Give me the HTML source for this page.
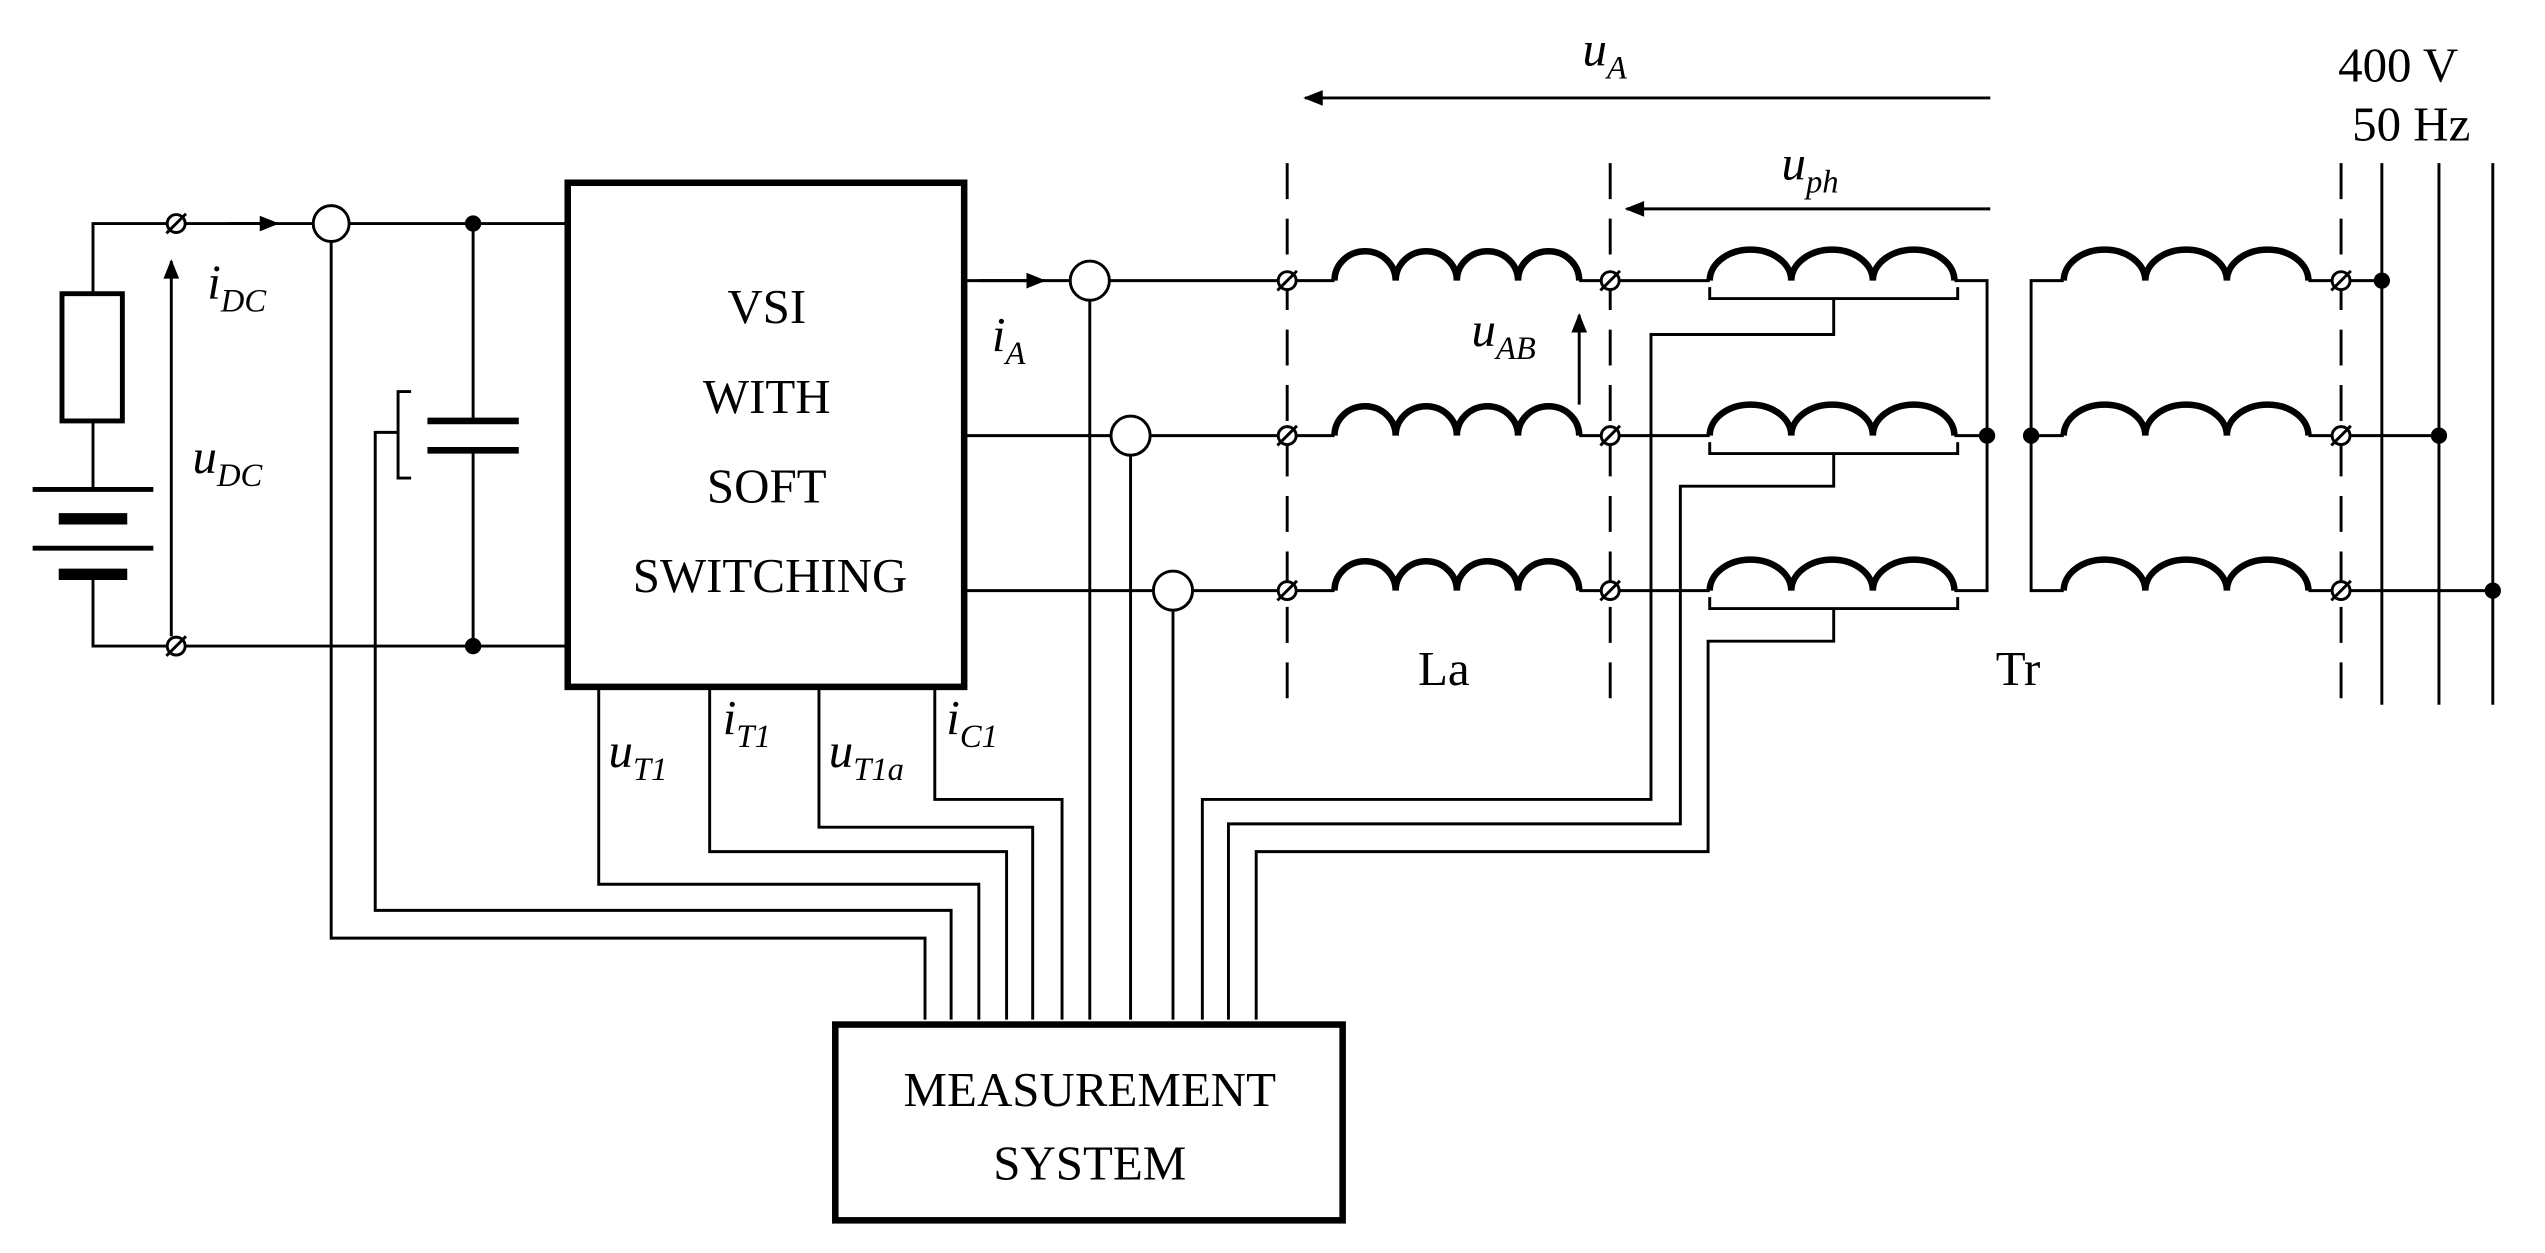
<!DOCTYPE html>
<html><head><meta charset="utf-8"><style>
html,body{margin:0;padding:0;background:#fff;}
svg{display:block;}
text{font-family:"Liberation Serif",serif;fill:#000;}
</style></head><body>
<svg width="2545" height="1253" viewBox="0 0 1560 768" xmlns="http://www.w3.org/2000/svg">
<defs>
<marker id="ar" viewBox="0 0 10 10" refX="9" refY="5" markerWidth="9" markerHeight="9" markerUnits="userSpaceOnUse" orient="auto"><path d="M0,1 L10,5 L0,9 Z" fill="#000"/></marker>
<marker id="ar2" viewBox="0 0 10 10" refX="9" refY="5" markerWidth="16" markerHeight="12" markerUnits="userSpaceOnUse" orient="auto"><path d="M0,1 L10,5 L0,9 Z" fill="#000"/></marker>
<g id="term"><circle r="5.5" fill="#fff" stroke="#000" stroke-width="1.8"/><line x1="-6" y1="6" x2="6" y2="-6" stroke="#000" stroke-width="1.8"/></g>
<path id="ind4" d="M0,0 a18.75,18 0 0 1 37.5,0 a18.75,18 0 0 1 37.5,0 a18.75,18 0 0 1 37.5,0 a18.75,18 0 0 1 37.5,0" fill="none" stroke="#000" stroke-width="4"/>
<path id="ind3" d="M0,0 a25,19 0 0 1 50,0 a25,19 0 0 1 50,0 a25,19 0 0 1 50,0" fill="none" stroke="#000" stroke-width="4"/>
</defs>
<g fill="none" stroke="#000" stroke-width="1.8">
<!-- DC side -->
<polyline points="348,137 57,137 57,180"/>
<rect x="38" y="180" width="37" height="78" stroke-width="3"/>
<polyline points="57,258 57,300"/>
<line x1="20" y1="300" x2="94" y2="300" stroke-width="3"/>
<line x1="36" y1="318" x2="78" y2="318" stroke-width="7"/>
<line x1="20" y1="336" x2="94" y2="336" stroke-width="3"/>
<line x1="36" y1="352" x2="78" y2="352" stroke-width="7"/>
<polyline points="57,352 57,396 348,396"/>
<line x1="140" y1="137" x2="170" y2="137" marker-end="url(#ar2)"/>
<line x1="105" y1="390" x2="105" y2="160" marker-end="url(#ar2)"/>
<!-- capacitor -->
<line x1="290" y1="137" x2="290" y2="258"/>
<line x1="262" y1="258" x2="318" y2="258" stroke-width="4"/>
<line x1="262" y1="276" x2="318" y2="276" stroke-width="4"/>
<line x1="290" y1="276" x2="290" y2="396"/>
<polyline points="252,240 244,240 244,293 252,293"/>
<polyline points="244,265 230,265 230,558 583,558 583,625"/>
<polyline points="203,148 203,575 567,575 567,625"/>
<circle cx="203" cy="137" r="11" fill="#fff"/>
<!-- VSI -->
<rect x="348" y="112" width="243" height="309" stroke-width="4"/>
<polyline points="367,421 367,542 600,542 600,625"/>
<polyline points="435,421 435,522 617,522 617,625"/>
<polyline points="502,421 502,507 633,507 633,625"/>
<polyline points="573,421 573,490 651,490 651,625"/>
<!-- outputs -->
<line x1="591" y1="172" x2="818" y2="172"/>
<line x1="591" y1="267" x2="818" y2="267"/>
<line x1="591" y1="362" x2="818" y2="362"/>
<line x1="600" y1="172" x2="640" y2="172" marker-end="url(#ar2)"/>
<line x1="668" y1="184" x2="668" y2="625"/>
<line x1="693" y1="279" x2="693" y2="625"/>
<line x1="719" y1="374" x2="719" y2="625"/>
<circle cx="668" cy="172" r="12" fill="#fff"/>
<circle cx="693" cy="267" r="12" fill="#fff"/>
<circle cx="719" cy="362" r="12" fill="#fff"/>
<!-- dashed -->
<line x1="789" y1="100" x2="789" y2="432" stroke-dasharray="22,12"/>
<line x1="987" y1="100" x2="987" y2="432" stroke-dasharray="22,12"/>
<line x1="1435" y1="100" x2="1435" y2="432" stroke-dasharray="22,12"/>
<!-- between inductors and primary -->
<line x1="968" y1="172" x2="1048" y2="172"/>
<line x1="968" y1="267" x2="1048" y2="267"/>
<line x1="968" y1="362" x2="1048" y2="362"/>
<polyline points="1198,172 1218,172 1218,362 1198,362"/>
<line x1="1198" y1="267" x2="1218" y2="267"/>
<polyline points="1265,172 1245,172 1245,362 1265,362"/>
<line x1="1245" y1="267" x2="1265" y2="267"/>
<!-- brackets and taps -->
<polyline points="1048,176 1048,183 1200,183 1200,176"/>
<polyline points="1048,271 1048,278 1200,278 1200,271"/>
<polyline points="1048,366 1048,373 1200,373 1200,366"/>
<polyline points="1124,183 1124,205 1012,205 1012,490 737,490 737,625"/>
<polyline points="1124,278 1124,298 1030,298 1030,505 753,505 753,625"/>
<polyline points="1124,373 1124,393 1047,393 1047,522 770,522 770,625"/>
<!-- secondary -->
<line x1="1415" y1="172" x2="1460" y2="172"/>
<line x1="1415" y1="267" x2="1495" y2="267"/>
<line x1="1415" y1="362" x2="1528" y2="362"/>
<line x1="1460" y1="100" x2="1460" y2="432"/>
<line x1="1495" y1="100" x2="1495" y2="432"/>
<line x1="1528" y1="100" x2="1528" y2="432"/>
<!-- voltage arrows -->
<line x1="1220" y1="60" x2="800" y2="60" marker-end="url(#ar2)"/>
<line x1="1220" y1="128" x2="997" y2="128" marker-end="url(#ar2)"/>
<line x1="968" y1="248" x2="968" y2="193" marker-end="url(#ar2)"/>
<!-- measurement -->
<rect x="512" y="628" width="311" height="120" stroke-width="4" fill="#fff"/>
</g>
<use href="#ind4" x="818" y="172"/><use href="#ind4" x="818" y="267"/><use href="#ind4" x="818" y="362"/>
<use href="#ind3" x="1048" y="172"/><use href="#ind3" x="1048" y="267"/><use href="#ind3" x="1048" y="362"/>
<use href="#ind3" x="1265" y="172"/><use href="#ind3" x="1265" y="267"/><use href="#ind3" x="1265" y="362"/>
<use href="#term" x="108" y="137"/><use href="#term" x="108" y="396"/>
<use href="#term" x="789" y="172"/><use href="#term" x="789" y="267"/><use href="#term" x="789" y="362"/>
<use href="#term" x="987" y="172"/><use href="#term" x="987" y="267"/><use href="#term" x="987" y="362"/>
<use href="#term" x="1435" y="172"/><use href="#term" x="1435" y="267"/><use href="#term" x="1435" y="362"/>
<g fill="#000">
<circle cx="290" cy="137" r="5"/><circle cx="290" cy="396" r="5"/>
<circle cx="1218" cy="267" r="5"/><circle cx="1245" cy="267" r="5"/>
<circle cx="1460" cy="172" r="5"/><circle cx="1495" cy="267" r="5"/><circle cx="1528" cy="362" r="5"/>
</g>
<g font-size="30" text-anchor="middle">
<text x="470" y="198">VSI</text>
<text x="470" y="253">WITH</text>
<text x="470" y="308">SOFT</text>
<text x="472" y="363">SWITCHING</text>
<text x="668" y="678">MEASUREMENT</text>
<text x="668" y="723">SYSTEM</text>
<text x="885" y="420">La</text>
<text x="1237" y="420">Tr</text>
<text x="1470" y="50">400 V</text>
<text x="1478" y="86">50 Hz</text>
</g>
<g font-size="30" font-style="italic">
<text x="127" y="183">i<tspan font-size="20" dy="8">DC</tspan></text>
<text x="118" y="290">u<tspan font-size="20" dy="8">DC</tspan></text>
<text x="608" y="215">i<tspan font-size="20" dy="8">A</tspan></text>
<text x="970" y="40">u<tspan font-size="20" dy="8">A</tspan></text>
<text x="1092" y="110">u<tspan font-size="20" dy="8">ph</tspan></text>
<text x="902" y="212">u<tspan font-size="20" dy="8">AB</tspan></text>
<text x="373" y="470">u<tspan font-size="20" dy="8">T1</tspan></text>
<text x="443" y="450">i<tspan font-size="20" dy="8">T1</tspan></text>
<text x="508" y="470">u<tspan font-size="20" dy="8">T1a</tspan></text>
<text x="580" y="450">i<tspan font-size="20" dy="8">C1</tspan></text>
</g>
</svg>
</body></html>
